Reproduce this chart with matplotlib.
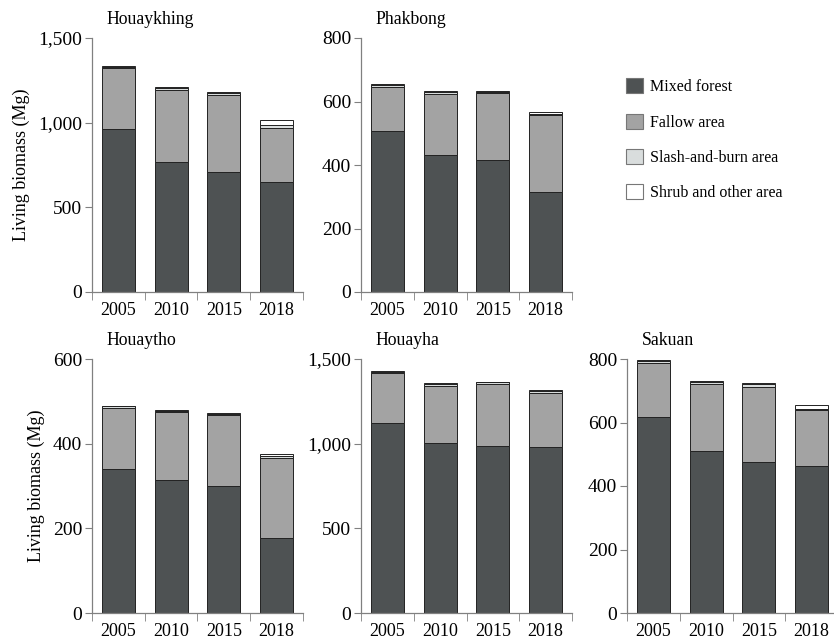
import numpy as np
import matplotlib
matplotlib.use("Agg")
import matplotlib.pyplot as plt
from matplotlib.patches import Patch
from matplotlib.ticker import FuncFormatter

plt.rcParams['font.family'] = ['Liberation Serif', 'DejaVu Serif']

years = ['2005', '2010', '2015', '2018']
classes = ['Mixed forest', 'Fallow area', 'Slash-and-burn area', 'Shrub and other area']

# living biomass (Mg) per village, one list per land-use class
houaykhing_mixed = [960, 768, 707, 652]
houaykhing_fallow = [363, 427, 458, 317]
houaykhing_slash = [8, 12, 12, 19]
houaykhing_shrub = [4, 4, 6, 30]

phakbong_mixed = [506, 432, 415, 314]
phakbong_fallow = [140, 193, 212, 242]
phakbong_slash = [7, 5, 3, 5]
phakbong_shrub = [2, 2, 2, 6]

houaytho_mixed = [341, 315, 299, 177]
houaytho_fallow = [143, 159, 168, 188]
houaytho_slash = [4, 3, 3, 5]
houaytho_shrub = [2, 2, 2, 6]

houayha_mixed = [1120, 1002, 988, 982]
houayha_fallow = [297, 341, 366, 317]
houayha_slash = [9, 10, 9, 10]
houayha_shrub = [3, 3, 3, 10]

sakuan_mixed = [618, 509, 477, 463]
sakuan_fallow = [168, 213, 234, 175]
sakuan_slash = [8, 6, 10, 6]
sakuan_shrub = [2, 4, 2, 12]

villages = [
    ('Houaykhing', [houaykhing_mixed, houaykhing_fallow, houaykhing_slash, houaykhing_shrub], 1500, 500),
    ('Phakbong', [phakbong_mixed, phakbong_fallow, phakbong_slash, phakbong_shrub], 800, 200),
    ('Houaytho', [houaytho_mixed, houaytho_fallow, houaytho_slash, houaytho_shrub], 600, 200),
    ('Houayha', [houayha_mixed, houayha_fallow, houayha_slash, houayha_shrub], 1500, 500),
    ('Sakuan', [sakuan_mixed, sakuan_fallow, sakuan_slash, sakuan_shrub], 800, 200),
]

colors = ['#4e5253', '#a3a3a3', '#d9dddd', '#ffffff']
spine_col = '#808080'

W, H = 834, 640
fig = plt.figure(figsize=(W / 100, H / 100), dpi=100)

# axes boxes in pixels: left, top (of the y range), with shared width/height
ax_w, ax_h = 211, 254
boxes = [(92, 38), (361, 38), (92, 359), (361, 359), (627, 359)]

x = np.arange(len(years))
for (name, series, ymax, step), (left, top) in zip(villages, boxes):
    ax = fig.add_axes([left / W, (H - top - ax_h) / H, ax_w / W, ax_h / H])
    bottom = np.zeros(len(years))
    for vals, c in zip(series, colors):
        ax.bar(x, vals, 0.63, bottom=bottom, color=c, edgecolor='#222222', linewidth=0.7)
        bottom += np.array(vals)
    ax.set_xlim(-0.5, 3.5)
    ax.set_ylim(0, ymax)
    ax.set_yticks(np.arange(0, ymax + 1, step))
    ax.yaxis.set_major_formatter(FuncFormatter(lambda v, p: f'{int(v):,}'))
    ax.set_xticks(x)
    ax.set_xticklabels(years)
    ax.set_xticks(np.arange(-0.5, 4, 1), minor=True)
    ax.tick_params(axis='x', which='major', length=0, pad=7, labelsize=13)
    ax.tick_params(axis='x', which='minor', length=6, color=spine_col, direction='out')
    ax.tick_params(axis='y', length=5, color=spine_col, pad=2, labelsize=14)
    for s in ('top', 'right'):
        ax.spines[s].set_visible(False)
    for s in ('left', 'bottom'):
        ax.spines[s].set_color(spine_col)
        ax.spines[s].set_linewidth(0.9)
    ax.text(0.07, 1.072, name, transform=ax.transAxes, va='center', ha='left', fontsize=12.8)
    if left == 92:
        ax.set_ylabel('Living biomass (Mg)', fontsize=13, labelpad=6)

handles = [Patch(facecolor=c, edgecolor='#777777', linewidth=0.8) for c in colors]
fig.legend(handles, classes, loc='upper left', bbox_to_anchor=(626 / W, 1 - 78.5 / H),
           frameon=False, fontsize=11.5, handlelength=1.05, handleheight=1.05,
           handletextpad=0.45, labelspacing=1.15, borderpad=0, borderaxespad=0)

fig.savefig('out.png', dpi=100)
